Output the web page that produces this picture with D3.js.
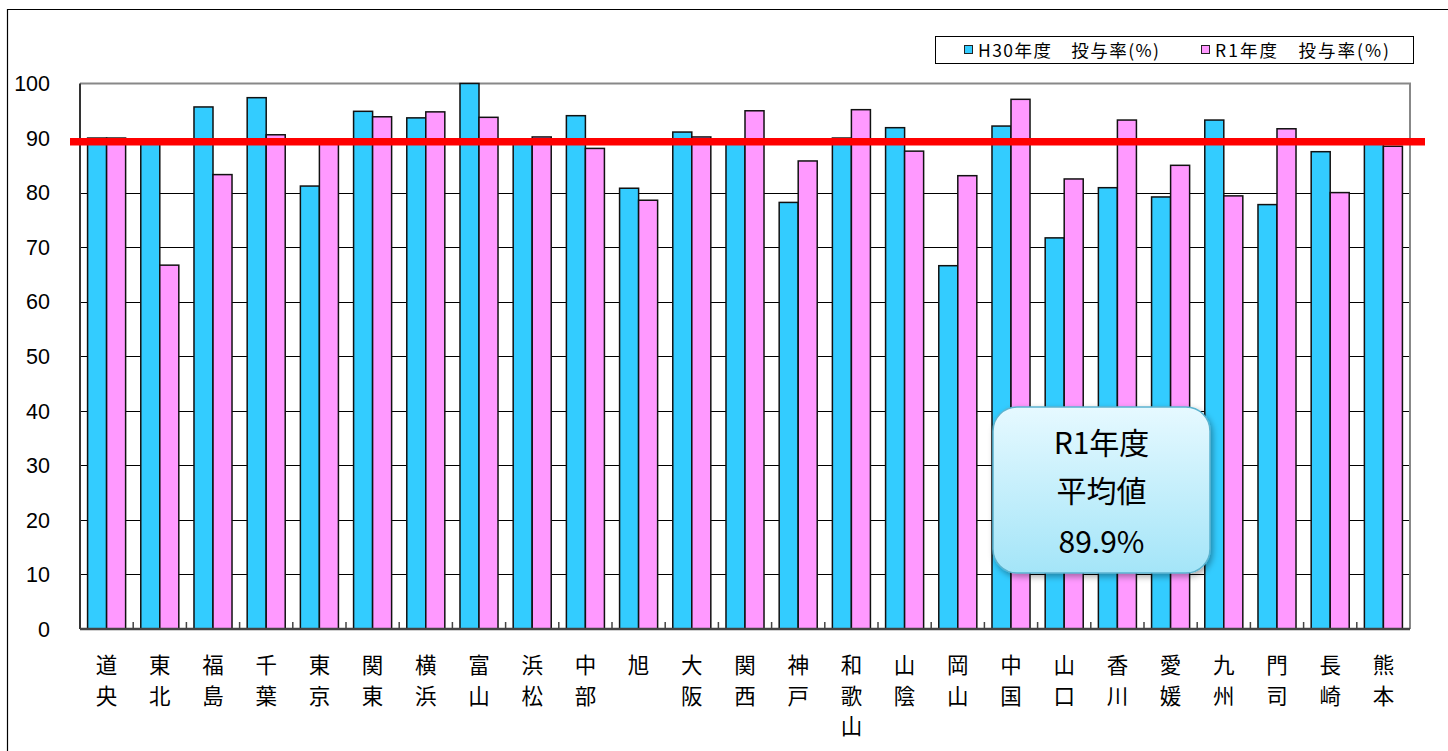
<html lang="ja">

<head>
  <meta charset="UTF-8">
  <title>投与率</title>
  <style>
    body { margin: 0; background: #fff; }
    svg { display: block; }
  </style>
</head>

<body>
  <script src="https://cdn.jsdelivr.net/npm/d3@7"></script>

  <div id="chart"></div>

  <script>
    // data
    var categories = ["道央", "東北", "福島", "千葉", "東京", "関東", "横浜", "富山", "浜松", "中部", "旭", "大阪", "関西",
      "神戸", "和歌山", "山陰", "岡山", "中国", "山口", "香川", "愛媛", "九州", "門司", "長崎", "熊本"];
    var h30Values = [90.0, 89.3, 95.7, 97.4, 81.2, 94.9, 93.7, 100, 89.3, 94.1, 80.8, 91.1, 89.3,
      78.2, 90.0, 91.9, 66.6, 92.2, 71.7, 80.9, 79.2, 93.3, 77.8, 87.5, 89.3];
    var r1Values = [90.0, 66.7, 83.3, 90.6, 89.3, 93.9, 94.8, 93.8, 90.2, 88.1, 78.6, 90.2, 95.0,
      85.8, 95.2, 87.6, 83.1, 97.1, 82.5, 93.3, 85.0, 79.4, 91.7, 80.0, 88.5];
    var seriesNames = ["H30年度　投与率(%)", "R1年度　投与率(%)"];
    var yTicks = [0, 10, 20, 30, 40, 50, 60, 70, 80, 90, 100];
    var avgLineValue = 89.3;   // where the red line sits in the picture
    var calloutLines = ["R1年度", "平均値", "89.9%"];

    var W = 1448, H = 751;
    var plot = { left: 80, right: 1410, top: 83.5, bottom: 629 };
    var colours = ["#33CCFF", "#FF99FF"];
    var jpFont = "'Noto Sans CJK JP', 'Noto Sans', sans-serif";

    var svg = d3.select("#chart")
      .append("svg")
      .attr("width", W)
      .attr("height", H);

    var defs = svg.append("defs");
    var grad = defs.append("linearGradient")
      .attr("id", "calloutGrad")
      .attr("x1", 0).attr("y1", 0).attr("x2", 0).attr("y2", 1);
    grad.append("stop").attr("offset", "0%").attr("stop-color", "#E6F9FF");
    grad.append("stop").attr("offset", "100%").attr("stop-color", "#A4E5F8");
    var shadow = defs.append("filter").attr("id", "shadow")
      .attr("x", "-10%").attr("y", "-10%").attr("width", "130%").attr("height", "130%");
    shadow.append("feDropShadow")
      .attr("dx", 2).attr("dy", 3).attr("stdDeviation", 3)
      .attr("flood-color", "#000").attr("flood-opacity", 0.35);

    // outer frame (open to the right and bottom)
    svg.append("path")
      .attr("d", "M7.5," + H + " L7.5,9.5 L" + W + ",9.5")
      .attr("fill", "none")
      .attr("stroke", "#000")
      .attr("stroke-width", 1.2);

    // scales
    var y = d3.scaleLinear().domain([0, 100]).range([plot.bottom, plot.top]);
    var x = d3.scaleBand()
      .domain(categories)
      .range([plot.left, plot.right])
      .paddingInner(0.285)
      .paddingOuter(0.1425);
    var xSub = d3.scaleBand().domain([0, 1]).range([0, x.bandwidth()]);

    // gridlines
    svg.append("g")
      .selectAll("line")
      .data(yTicks.filter(function (d) { return d > 0 && d < 100; }))
      .enter()
      .append("line")
      .attr("x1", plot.left).attr("x2", plot.right)
      .attr("y1", function (d) { return Math.round(y(d)) + 0.5; })
      .attr("y2", function (d) { return Math.round(y(d)) + 0.5; })
      .attr("stroke", "#000")
      .attr("stroke-width", 1);

    // plot frame top / right in grey
    svg.append("path")
      .attr("d", "M" + plot.left + "," + y(100) + " L" + plot.right + "," + y(100) + " L" + plot.right + "," + y(0))
      .attr("fill", "none")
      .attr("stroke", "#888")
      .attr("stroke-width", 2);

    // bars
    var rows = categories.map(function (c, i) { return { cat: c, vals: [h30Values[i], r1Values[i]] }; });
    var groups = svg.append("g")
      .selectAll("g")
      .data(rows)
      .enter()
      .append("g")
      .attr("transform", function (d) { return "translate(" + x(d.cat) + ",0)"; });

    groups.selectAll("rect")
      .data(function (d) { return d.vals.map(function (v, k) { return { k: k, v: v }; }); })
      .enter()
      .append("rect")
      .attr("x", function (d) { return xSub(d.k); })
      .attr("y", function (d) { return y(d.v); })
      .attr("width", xSub.bandwidth())
      .attr("height", function (d) { return y(0) - y(d.v); })
      .attr("fill", function (d) { return colours[d.k]; })
      .attr("stroke", "#111")
      .attr("stroke-width", 1.5);

    // axis lines + category tick marks
    svg.append("line")
      .attr("x1", plot.left).attr("x2", plot.left)
      .attr("y1", y(100)).attr("y2", y(0))
      .attr("stroke", "#333").attr("stroke-width", 2);
    svg.append("line")
      .attr("x1", plot.left).attr("x2", plot.right)
      .attr("y1", y(0)).attr("y2", y(0))
      .attr("stroke", "#444").attr("stroke-width", 2.5);

    var step = x.step();
    svg.append("g")
      .selectAll("line")
      .data(categories.slice(1))
      .enter()
      .append("line")
      .attr("x1", function (d) { return x(d) - step * x.paddingInner() / 2; })
      .attr("x2", function (d) { return x(d) - step * x.paddingInner() / 2; })
      .attr("y1", y(0) - 7).attr("y2", y(0))
      .attr("stroke", "#444").attr("stroke-width", 1.5);

    // y labels
    svg.append("g")
      .selectAll("text")
      .data(yTicks)
      .enter()
      .append("text")
      .attr("x", 50)
      .attr("y", function (d) { return y(d); })
      .attr("dy", "0.36em")
      .attr("text-anchor", "end")
      .attr("font-family", "'Liberation Sans', Arial, sans-serif")
      .attr("font-size", 21.5)
      .text(function (d) { return d; });

    // x labels, one character per line
    var xl = svg.append("g")
      .selectAll("text")
      .data(categories)
      .enter()
      .append("text")
      .attr("text-anchor", "middle")
      .attr("font-family", jpFont)
      .attr("font-size", 21.5)
      .attr("fill", "#000");
    xl.each(function (d) {
      var t = d3.select(this);
      var cx = x(d) + x.bandwidth() / 2;
      d.split("").forEach(function (ch, j) {
        t.append("tspan")
          .attr("x", cx)
          .attr("y", 673 + j * 30.5)
          .text(ch);
      });
    });

    // average line
    svg.append("line")
      .attr("x1", plot.left - 10).attr("x2", plot.right + 15)
      .attr("y1", y(avgLineValue)).attr("y2", y(avgLineValue))
      .attr("stroke", "#FF0000")
      .attr("stroke-width", 7.5);

    // legend
    var legend = svg.append("g");
    legend.append("rect")
      .attr("x", 935.5).attr("y", 36.5)
      .attr("width", 478).attr("height", 27)
      .attr("fill", "#fff").attr("stroke", "#000").attr("stroke-width", 1);
    var legendX = [964, 1201];
    var legendLen = [181, 174];
    seriesNames.forEach(function (name, i) {
      legend.append("rect")
        .attr("x", legendX[i] + 0.5).attr("y", 45.5)
        .attr("width", 8).attr("height", 8)
        .attr("fill", colours[i]).attr("stroke", "#222").attr("stroke-width", 1);
      legend.append("text")
        .attr("x", legendX[i] + 14).attr("y", 56.5)
        .attr("font-family", jpFont)
        .attr("font-size", 17.5)
        .attr("textLength", legendLen[i])
        .attr("lengthAdjust", "spacing")
        .text(name);
    });

    // callout box
    var cx0 = 993, cy0 = 407, cw = 217, ch = 166;
    svg.append("rect")
      .attr("x", cx0).attr("y", cy0)
      .attr("width", cw).attr("height", ch)
      .attr("rx", 24).attr("ry", 24)
      .attr("fill", "url(#calloutGrad)")
      .attr("stroke", "#5BB3CF")
      .attr("stroke-width", 1.5)
      .attr("filter", "url(#shadow)");
    svg.append("g")
      .selectAll("text")
      .data(calloutLines)
      .enter()
      .append("text")
      .attr("x", cx0 + cw / 2)
      .attr("y", function (d, i) { return [443, 491, 542][i]; })
      .attr("dy", "0.36em")
      .attr("text-anchor", "middle")
      .attr("font-family", jpFont)
      .attr("font-size", 30)
      .attr("fill", "#000")
      .text(function (d) { return d; });
  </script>

</body>

</html>
